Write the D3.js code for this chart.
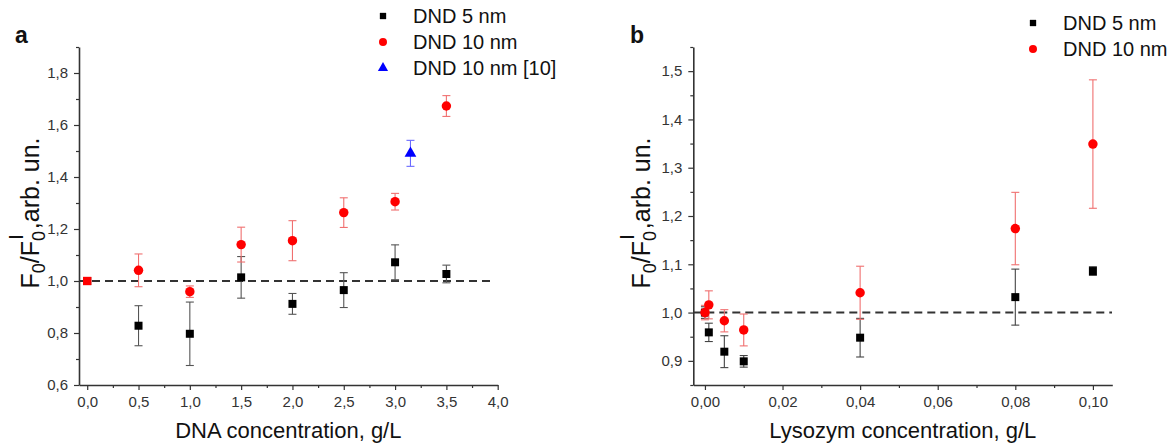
<!DOCTYPE html>
<html>
<head>
<meta charset="utf-8">
<script src="https://cdn.jsdelivr.net/npm/d3@7"></script>
<style>
  body { margin: 0; background: #fff; }
  svg { font-family: "Liberation Sans", Arial, sans-serif; }
</style>
</head>
<body>
<svg id="chart" width="1175" height="447"></svg>
<script>
// panel a - DNA
const dnaX = [0, 0.5, 1.0, 1.5, 2.0, 2.5, 3.0, 3.5];
const dna5 = [1.0, 0.828, 0.797, 1.014, 0.912, 0.965, 1.072, 1.027];
const dna5Err = [0, 0.077, 0.122, 0.08, 0.04, 0.067, 0.067, 0.034];
const dna10 = [1.0, 1.041, 0.959, 1.14, 1.155, 1.263, 1.305, 1.673];
const dna10Err = [0, 0.063, 0.022, 0.067, 0.077, 0.057, 0.032, 0.04];
const dnaRefX = [3.15];
const dnaRef = [1.491];
const dnaRefErr = [0.05];

// panel b - lysozym
const lysX = [0, 0.001, 0.005, 0.01, 0.04, 0.08, 0.1];
const lys5 = [1.0, 0.959, 0.919, 0.899, 0.948, 1.032, 1.086];
const lys5Err = [0.012, 0.019, 0.033, 0.012, 0.04, 0.058, 0.009];
const lys10 = [1.0, 1.016, 0.983, 0.964, 1.041, 1.174, 1.349];
const lys10Err = [0.015, 0.029, 0.023, 0.033, 0.055, 0.075, 0.133];

const legendA = ["DND 5 nm", "DND 10 nm", "DND 10 nm [10]"];
const legendB = ["DND 5 nm", "DND 10 nm"];

const svg = d3.select('#chart');
svg.append('rect').attr('width', 1175).attr('height', 447).attr('fill', '#fff');

const locale = d3.formatLocale({decimal: ",", thousands: ".", grouping: [3], currency: ["", ""]});

function zip(xs, ys, es) {
  return xs.map((x, i) => ({x: x, y: ys[i], e: es[i]}));
}

function drawPanel(cfg) {
  const g = svg.append('g');
  const x = d3.scaleLinear().domain(cfg.xDomain).range(cfg.xRange);
  const y = d3.scaleLinear().domain(cfg.yDomain).range([385, 47]);

  // minor ticks
  g.append('g').attr('transform', 'translate(0,385)')
    .call(d3.axisBottom(x).tickValues(cfg.xMinor).tickSize(3).tickFormat(''))
    .call(a => a.select('.domain').remove());
  g.append('g').attr('transform', `translate(${cfg.xRange[0]},0)`)
    .call(d3.axisLeft(y).tickValues(cfg.yMinor).tickSize(3).tickFormat(''))
    .call(a => a.select('.domain').remove());

  // major axes
  const xa = g.append('g').attr('transform', 'translate(0,385)')
    .call(d3.axisBottom(x).tickValues(cfg.xMajor).tickSize(5).tickSizeOuter(0).tickPadding(6)
      .tickFormat(locale.format(cfg.xFmt)));
  const ya = g.append('g').attr('transform', `translate(${cfg.xRange[0]},0)`)
    .call(d3.axisLeft(y).tickValues(cfg.yMajor).tickSize(5).tickSizeOuter(0).tickPadding(6)
      .tickFormat(locale.format(cfg.yFmt)));
  [xa, ya].forEach(a => {
    a.selectAll('text').attr('font-size', 15).attr('fill', '#333').attr('font-family', null);
  });
  g.selectAll('.tick line').attr('stroke', '#333').attr('stroke-width', 1.2);
  g.selectAll('.domain').attr('stroke', '#333').attr('stroke-width', 1.6);

  // reference line at 1
  g.append('line')
    .attr('x1', cfg.xRange[0]).attr('x2', cfg.dashEnd)
    .attr('y1', y(1)).attr('y2', y(1))
    .attr('stroke', '#333').attr('stroke-width', 2).attr('stroke-dasharray', '8,5');

  // series
  cfg.series.forEach(s => {
    const pts = zip(s.xs, s.ys, s.es);
    const eb = g.append('g').attr('stroke', s.errColor).attr('stroke-width', 1.1);
    pts.filter(d => d.e > 0).forEach(d => {
      const px = x(d.x);
      eb.append('line').attr('x1', px).attr('x2', px).attr('y1', y(d.y - d.e)).attr('y2', y(d.y + d.e));
      eb.append('line').attr('x1', px - 4).attr('x2', px + 4).attr('y1', y(d.y - d.e)).attr('y2', y(d.y - d.e));
      eb.append('line').attr('x1', px - 4).attr('x2', px + 4).attr('y1', y(d.y + d.e)).attr('y2', y(d.y + d.e));
    });
    g.append('g').selectAll('path').data(pts).join('path')
      .attr('transform', d => `translate(${x(d.x)},${y(d.y)})`)
      .attr('d', d => d3.symbol().type(d.x === 0 && s.zeroSquare ? d3.symbolSquare : s.symbol).size(s.size)())
      .attr('fill', s.color);
  });

  // legend
  const lg = g.append('g');
  cfg.series.forEach((s, i) => {
    const ly = cfg.legendY + i * 26;
    lg.append('path')
      .attr('transform', `translate(${cfg.legendX},${ly})`)
      .attr('d', d3.symbol().type(s.symbol).size(s.legendSize)())
      .attr('fill', s.color);
    lg.append('text').attr('x', cfg.legendX + 30).attr('y', ly + 7)
      .attr('font-size', 20).attr('fill', '#111').text(cfg.legend[i]);
  });

  // axis titles
  g.append('text')
    .attr('x', (cfg.xRange[0] + cfg.xRange[1]) / 2).attr('y', 438)
    .attr('text-anchor', 'middle').attr('font-size', 22).attr('fill', '#111')
    .text(cfg.xTitle);

  const yt = g.append('text')
    .attr('transform', `translate(${cfg.yTitleX},213) rotate(-90)`)
    .attr('text-anchor', 'middle').attr('font-size', 25).attr('fill', '#111');
  yt.append('tspan').text('F');
  yt.append('tspan').attr('font-size', 18).attr('dy', 6).text('0');
  yt.append('tspan').attr('dy', -6).text('/F');
  yt.append('tspan').attr('font-size', 18).attr('dy', 6).text('0');
  yt.append('tspan').attr('font-size', 21).attr('dx', -9).attr('dy', -22).text('I');
  yt.append('tspan').attr('dx', 5).attr('dy', 16).text(',arb. un.');

  // panel letter
  g.append('text').attr('x', cfg.letterX).attr('y', 43)
    .attr('font-size', 23).attr('font-weight', 'bold').attr('fill', '#111')
    .text(cfg.letter);
}

drawPanel({
  letter: 'a', letterX: 15,
  xDomain: [-0.08, 4.0], xRange: [79, 497.7],
  yDomain: [0.6, 1.9],
  xMajor: d3.range(0, 4.01, 0.5), xMinor: d3.range(0.25, 4, 0.5),
  yMajor: d3.range(0.6, 1.81, 0.2), yMinor: d3.range(0.7, 1.91, 0.2),
  xFmt: '.1f', yFmt: '.1f',
  dashEnd: 492,
  xTitle: 'DNA concentration, g/L', yTitleX: 39,
  legendX: 383, legendY: 16, legend: legendA,
  series: [
    {xs: dnaX, ys: dna5, es: dna5Err, color: '#000', errColor: '#555', symbol: d3.symbolSquare, size: 64, legendSize: 40},
    {xs: dnaX, ys: dna10, es: dna10Err, color: '#ff0000', errColor: '#f07070', symbol: d3.symbolCircle, size: 70, legendSize: 50, zeroSquare: true},
    {xs: dnaRefX, ys: dnaRef, es: dnaRefErr, color: '#0000ff', errColor: '#6a6aff', symbol: d3.symbolTriangle, size: 60, legendSize: 45}
  ]
});

drawPanel({
  letter: 'b', letterX: 630,
  xDomain: [-0.003, 0.105], xRange: [693.3, 1112.3],
  yDomain: [0.85, 1.55],
  xMajor: d3.range(0, 0.1001, 0.02), xMinor: d3.range(0.01, 0.1, 0.02),
  yMajor: d3.range(0.9, 1.501, 0.1), yMinor: d3.range(0.85, 1.56, 0.1),
  xFmt: '.2f', yFmt: '.1f',
  dashEnd: 1112,
  xTitle: 'Lysozym concentration, g/L', yTitleX: 650,
  legendX: 1033, legendY: 23, legend: legendB,
  series: [
    {xs: lysX, ys: lys5, es: lys5Err, color: '#000', errColor: '#444', symbol: d3.symbolSquare, size: 64, legendSize: 40},
    {xs: lysX, ys: lys10, es: lys10Err, color: '#ff0000', errColor: '#f07070', symbol: d3.symbolCircle, size: 70, legendSize: 50}
  ]
});
</script>
</body>
</html>
